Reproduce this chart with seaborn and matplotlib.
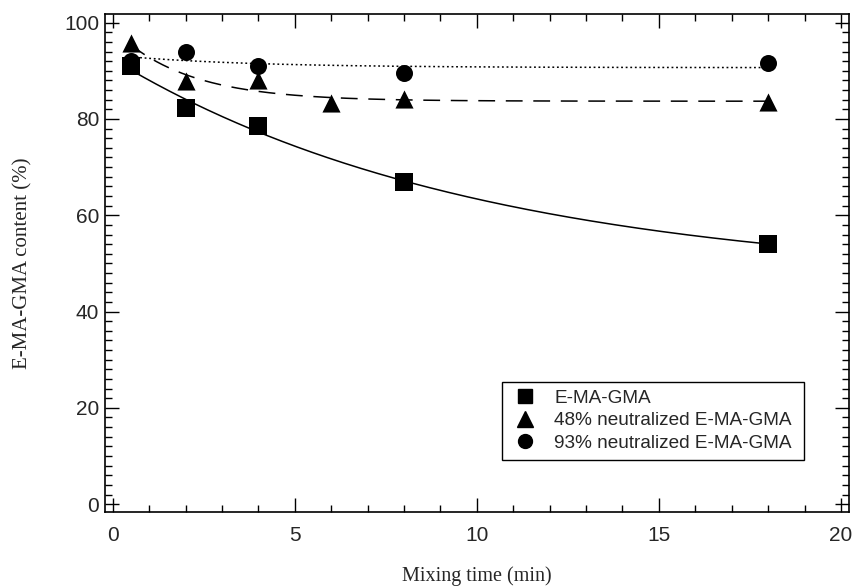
import numpy as np
import pandas as pd
import matplotlib
matplotlib.use("Agg")
import matplotlib.pyplot as plt
from matplotlib.lines import Line2D
from matplotlib.ticker import MultipleLocator
import seaborn as sns

# Measured E-MA-GMA content versus mixing time
time_plain = [0.5, 2, 4, 8, 18]
content_plain = [91.0, 82.2, 78.5, 67.0, 54.0]

time_48 = [0.5, 2, 4, 6, 8, 18]
content_48 = [95.7, 87.8, 88.0, 83.3, 84.1, 83.5]

time_93 = [0.5, 2, 4, 8, 18]
content_93 = [92.0, 94.0, 91.0, 89.5, 91.6]

series_labels = ["E-MA-GMA", "48% neutralized E-MA-GMA", "93% neutralized E-MA-GMA"]


def exp_decay_fit(x, y, x_eval):
    """Least-squares fit of y = a + b*exp(-c*x), searching c on a grid."""
    x = np.asarray(x, float)
    y = np.asarray(y, float)
    best = None
    for c in np.logspace(-3, 1, 2000):
        A = np.column_stack([np.ones_like(x), np.exp(-c * x)])
        coef, *_ = np.linalg.lstsq(A, y, rcond=None)
        sse = np.sum((A @ coef - y) ** 2)
        if best is None or sse < best[0]:
            best = (sse, c, coef)
    _, c, (a, b) = best
    return a + b * np.exp(-c * x_eval)


sns.set_style("ticks")
plt.rcParams["font.family"] = ["Liberation Sans", "DejaVu Sans"]

fig = plt.figure(figsize=(8.54, 5.88), dpi=100)
ax = fig.add_axes([0.1226, 0.1287, 0.8715, 0.8475])

xs = np.linspace(0.5, 18, 300)
fits = pd.DataFrame({
    "t": np.tile(xs, 3),
    "c": np.concatenate([
        exp_decay_fit(time_plain, content_plain, xs),
        exp_decay_fit(time_48, content_48, xs),
        exp_decay_fit(time_93, content_93, xs),
    ]),
    "s": np.repeat(series_labels, len(xs)),
})

styles = {
    series_labels[0]: None,
    series_labels[1]: (11, 7),
    series_labels[2]: (1.2, 1.8),
}
for lab in series_labels:
    sub = fits[fits["s"] == lab]
    sns.lineplot(data=sub, x="t", y="c", color="black", lw=1.1, ax=ax,
                 legend=False, zorder=2)
    if styles[lab] is not None:
        ax.lines[-1].set_dashes(styles[lab])

pts = pd.DataFrame({
    "t": time_plain + time_48 + time_93,
    "c": content_plain + content_48 + content_93,
    "s": [series_labels[0]] * len(time_plain)
         + [series_labels[1]] * len(time_48)
         + [series_labels[2]] * len(time_93),
})
markers = {series_labels[0]: "s", series_labels[1]: "^", series_labels[2]: "o"}
sizes = {series_labels[0]: 150, series_labels[1]: 170, series_labels[2]: 150}
for lab in series_labels:
    sub = pts[pts["s"] == lab]
    sns.scatterplot(data=sub, x="t", y="c", marker=markers[lab], s=sizes[lab],
                    color="black", edgecolor="black", linewidth=0, ax=ax,
                    legend=False, zorder=3)

ax.set_xlim(-0.22, 20.22)
ax.set_ylim(-1.7, 101.8)
ax.xaxis.set_major_locator(MultipleLocator(5))
ax.xaxis.set_minor_locator(MultipleLocator(1))
ax.yaxis.set_major_locator(MultipleLocator(20))
ax.yaxis.set_minor_locator(MultipleLocator(2))
ax.tick_params(which="both", direction="in", top=True, right=True,
               color="black", width=1.0)
ax.tick_params(which="major", length=10, labelsize=15)
ax.tick_params(which="minor", length=5)
ax.tick_params(axis="x", which="major", pad=10)
ax.tick_params(axis="y", which="major", pad=4)
for sp in ax.spines.values():
    sp.set_visible(True)
    sp.set_linewidth(1.2)
    sp.set_color("black")

ax.set_xlabel("Mixing time (min)", family=["Liberation Serif"], fontsize=14.5,
              labelpad=15)
ax.set_ylabel("E-MA-GMA content (%)", family=["Liberation Serif"], fontsize=15,
              labelpad=23)

handles = [Line2D([], [], ls="none", marker=markers[l], color="black",
                  markersize=11 if l == series_labels[1] else 10)
           for l in series_labels]
leg = ax.legend(handles, series_labels, loc="lower left",
                bbox_to_anchor=(0.5335, 0.1055, 0.406, 0.165), mode="expand",
                fontsize=13.7, frameon=True, fancybox=False, edgecolor="black",
                framealpha=1, borderpad=0.4, labelspacing=0.28,
                handletextpad=0.75, handlelength=1.6, borderaxespad=0)
leg.get_frame().set_linewidth(1.0)

fig.savefig("out.png", dpi=100)
